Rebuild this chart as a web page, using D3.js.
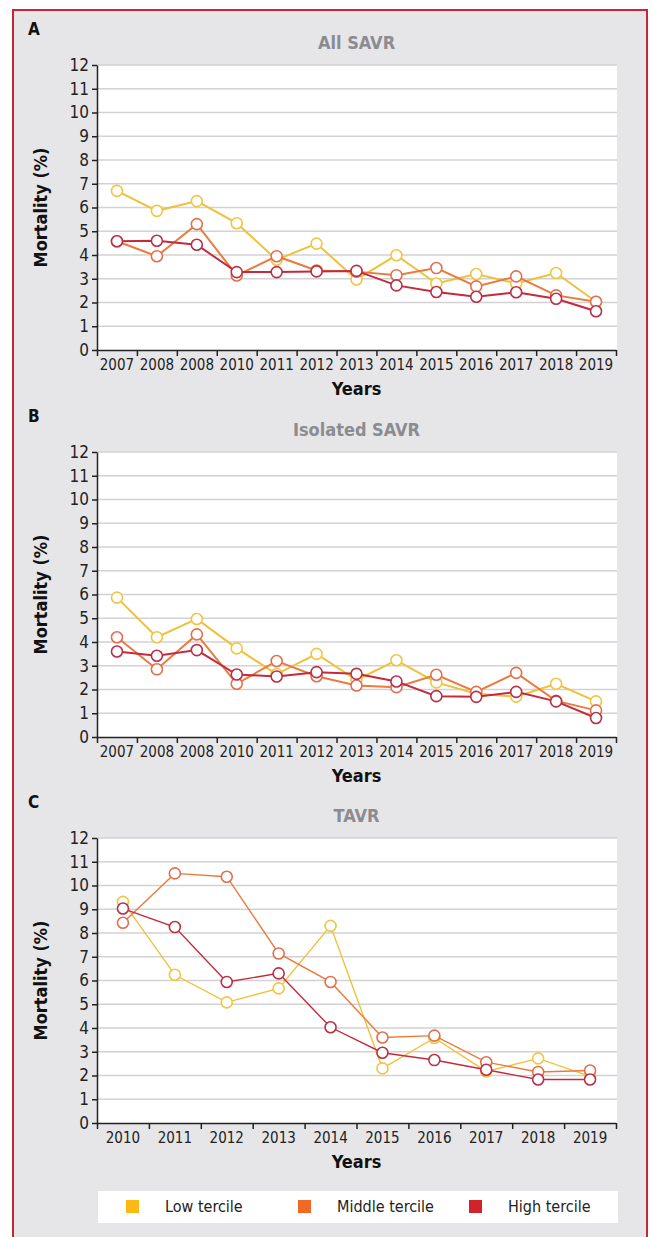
<!DOCTYPE html>
<html>
<head>
<meta charset="utf-8">
<script src="https://cdn.jsdelivr.net/npm/d3@7"></script>
<style>
  body { margin: 0; background: #fff; }
  svg text { font-family: "Liberation Sans Narrow", "Arial Narrow", "DejaVu Sans Condensed", sans-serif; }
</style>
</head>
<body>
<div id="chart"></div>
<script>
// x-axis labels (the source repeats "2008" for the third year)
const savrYears = ["2007", "2008", "2008", "2010", "2011", "2012", "2013", "2014", "2015", "2016", "2017", "2018", "2019"];
const tavrYears = ["2010", "2011", "2012", "2013", "2014", "2015", "2016", "2017", "2018", "2019"];
const yTicks = [0, 1, 2, 3, 4, 5, 6, 7, 8, 9, 10, 11, 12];
const seriesNames = ["Low tercile", "Middle tercile", "High tercile"];

// A: All SAVR
const allLow  = [6.7, 5.86, 6.27, 5.34, 3.8, 4.48, 2.97, 3.99, 2.8, 3.2, 2.8, 3.24, 2.03];
const allMid  = [4.58, 3.95, 5.3, 3.14, 3.95, 3.35, 3.3, 3.15, 3.45, 2.68, 3.1, 2.3, 2.03];
const allHigh = [4.58, 4.6, 4.43, 3.28, 3.28, 3.31, 3.33, 2.72, 2.44, 2.24, 2.43, 2.16, 1.63];

// B: Isolated SAVR
const isoLow  = [5.87, 4.2, 4.97, 3.73, 2.65, 3.5, 2.4, 3.23, 2.3, 1.82, 1.7, 2.24, 1.5];
const isoMid  = [4.2, 2.85, 4.32, 2.24, 3.2, 2.56, 2.17, 2.1, 2.62, 1.9, 2.7, 1.52, 1.12];
const isoHigh = [3.6, 3.42, 3.66, 2.63, 2.55, 2.73, 2.66, 2.34, 1.72, 1.69, 1.9, 1.5, 0.8];

// C: TAVR
const tavrLow  = [9.31, 6.24, 5.08, 5.67, 8.3, 2.3, 3.58, 2.17, 2.72, 1.96];
const tavrMid  = [8.43, 10.51, 10.37, 7.14, 5.94, 3.6, 3.68, 2.56, 2.15, 2.21];
const tavrHigh = [9.03, 8.25, 5.94, 6.3, 4.03, 2.96, 2.65, 2.24, 1.83, 1.83];

const W = 652, H = 1237;
const x0 = 97, x1 = 616;

const lineColors = ["#efc13a", "#ea7a3e", "#c52a3c"];
const dotColors = ["#f0c640", "#e2704c", "#b8304a"];
const legendColors = ["#fdb913", "#f06a25", "#d1232a"];

const panels = [
  { letter: "A", title: "All SAVR", years: savrYears, series: [allLow, allMid, allHigh], top: 65, bottom: 350, lw: 2 },
  { letter: "B", title: "Isolated SAVR", years: savrYears, series: [isoLow, isoMid, isoHigh], top: 452, bottom: 737, lw: 2 },
  { letter: "C", title: "TAVR", years: tavrYears, series: [tavrLow, tavrMid, tavrHigh], top: 838, bottom: 1123, lw: 1.4 }
];

const svg = d3.select("#chart").append("svg")
  .attr("width", W)
  .attr("height", H);

// outer frame
svg.append("rect")
  .attr("x", 13).attr("y", 10)
  .attr("width", 634).attr("height", H + 10)
  .attr("fill", "#e6e6e9")
  .attr("stroke", "#c8243a")
  .attr("stroke-width", 2);

panels.forEach(p => {
  const g = svg.append("g");

  const y = d3.scaleLinear().domain([0, 12]).range([p.bottom, p.top]);
  const x = d3.scaleBand().domain(d3.range(p.years.length)).range([x0, x1]);
  const xEdge = d3.scaleLinear().domain([0, p.years.length]).range([x0, x1]);

  // plot background + gridlines
  g.append("rect")
    .attr("x", x0).attr("y", y(12))
    .attr("width", x1 - x0 + 1).attr("height", y(0) - y(12))
    .attr("fill", "#fff");

  g.selectAll(".grid")
    .data(yTicks.filter(d => d > 0))
    .enter().append("line")
    .attr("x1", x0).attr("x2", x1 + 1)
    .attr("y1", d => y(d)).attr("y2", d => y(d))
    .attr("stroke", "#d2d2d4")
    .attr("stroke-width", 1.5);

  // y axis
  const ya = g.append("g")
    .attr("transform", `translate(${x0},0)`)
    .call(d3.axisLeft(y).tickValues(yTicks).tickSize(5).tickSizeOuter(0).tickPadding(3));
  ya.selectAll("text").style("font-size", "17px").attr("fill", "#222");
  ya.selectAll("line, path").attr("stroke", "#222").attr("stroke-width", 1.5);

  // x axis: tick marks at band edges, labels at band centres
  const xt = g.append("g")
    .attr("transform", `translate(0,${y(0)})`)
    .call(d3.axisBottom(xEdge).ticks(p.years.length).tickSize(6).tickSizeOuter(0).tickFormat(""));
  xt.selectAll("line, path").attr("stroke", "#222").attr("stroke-width", 1.5);

  const xl = g.append("g")
    .attr("transform", `translate(0,${y(0)})`)
    .call(d3.axisBottom(x).tickSize(0).tickPadding(9).tickFormat(i => p.years[i]));
  xl.select(".domain").remove();
  xl.selectAll("text").style("font-size", "15px").attr("fill", "#222");

  // labels
  g.append("text")
    .attr("x", 28).attr("y", p.top - 30)
    .style("font-size", "17px").style("font-weight", "bold")
    .attr("fill", "#111")
    .text(p.letter);

  g.append("text")
    .attr("x", (x0 + x1) / 2).attr("y", p.top - 16)
    .attr("text-anchor", "middle")
    .style("font-size", "18px").style("font-weight", "bold")
    .attr("fill", "#8c8c90")
    .text(p.title);

  g.append("text")
    .attr("x", (x0 + x1) / 2).attr("y", p.bottom + 45)
    .attr("text-anchor", "middle")
    .style("font-size", "18px").style("font-weight", "bold")
    .attr("fill", "#111")
    .text("Years");

  g.append("text")
    .attr("transform", `translate(47,${(p.top + p.bottom) / 2}) rotate(-90)`)
    .attr("text-anchor", "middle")
    .style("font-size", "18px").style("font-weight", "bold")
    .attr("fill", "#111")
    .text("Mortality (%)");

  // series
  const cx = i => x(i) + x.bandwidth() / 2;
  p.series.forEach((vals, s) => {
    g.append("path")
      .datum(vals)
      .attr("fill", "none")
      .attr("stroke", lineColors[s])
      .attr("stroke-width", p.lw)
      .attr("d", d3.line().x((d, i) => cx(i)).y(d => y(d)));

    g.selectAll(null)
      .data(vals)
      .enter().append("circle")
      .attr("cx", (d, i) => cx(i))
      .attr("cy", d => y(d))
      .attr("r", 5.5)
      .attr("fill", "#fff")
      .attr("stroke", dotColors[s])
      .attr("stroke-width", 1.6);
  });
});

// legend
const legend = svg.append("g");
legend.append("rect")
  .attr("x", 98).attr("y", 1191)
  .attr("width", 520).attr("height", 32)
  .attr("fill", "#fff");

const legendX = [126, 298, 469];
seriesNames.forEach((name, i) => {
  legend.append("rect")
    .attr("x", legendX[i]).attr("y", 1200)
    .attr("width", 13).attr("height", 13)
    .attr("fill", legendColors[i]);
  legend.append("text")
    .attr("x", legendX[i] + 39).attr("y", 1212)
    .style("font-size", "16px")
    .attr("fill", "#222")
    .text(name);
});
</script>
</body>
</html>
